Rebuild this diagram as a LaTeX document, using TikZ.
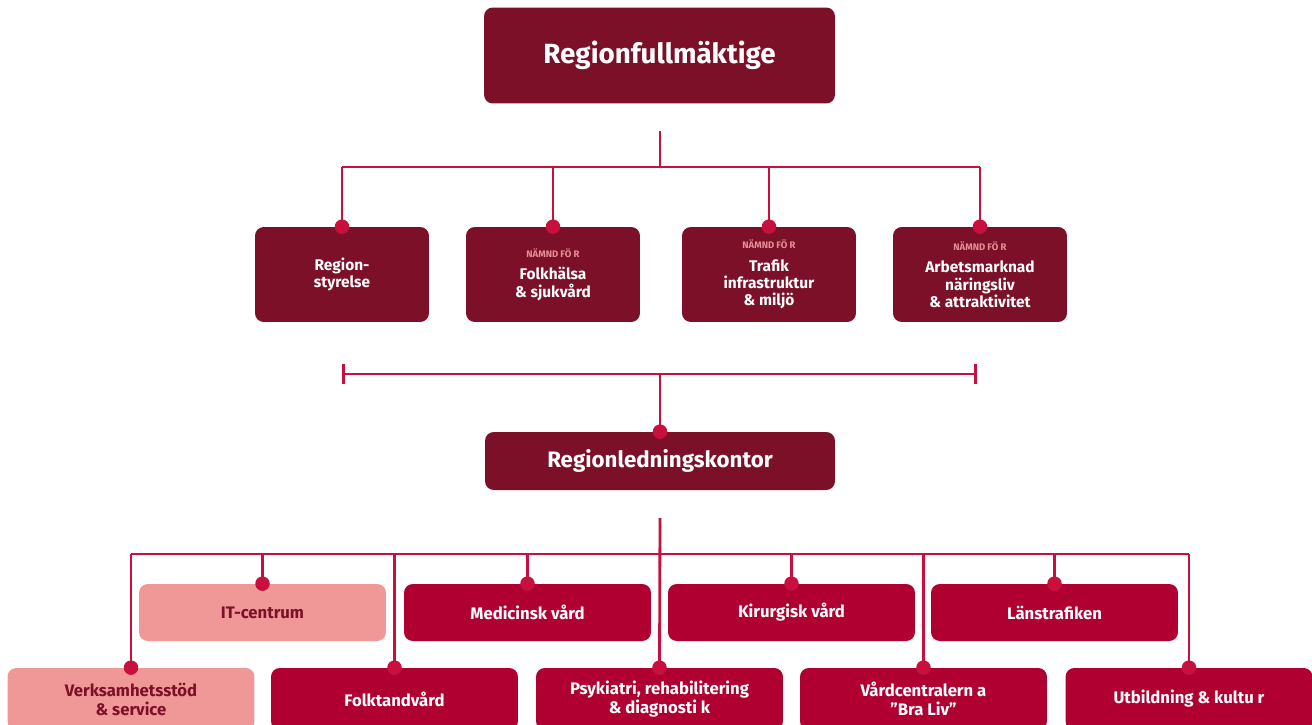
\documentclass[tikz,border=0pt]{standalone}
\usepackage{fontspec}
\setmainfont{Fira Sans}
\usetikzlibrary{arrows.meta}
\definecolor{maroon}{HTML}{7B1028}
\definecolor{crimson}{HTML}{B00032}
\definecolor{rose}{HTML}{F09898}
\definecolor{wirered}{HTML}{C8103F}
\definecolor{tagpink}{HTML}{E58E96}
\tikzset{
  box/.style={rounded corners=5pt, align=center, text=white, font=\bfseries, inner sep=0pt},
  topbox/.style={box, fill=maroon, minimum width=7.02cm, minimum height=1.92cm, font=\bfseries\fontsize{15.8}{18}\selectfont},
  board/.style={box, fill=maroon, minimum width=3.48cm, minimum height=1.9cm, font=\bfseries\fontsize{8.8}{9.9}\selectfont},
  office/.style={box, fill=maroon, minimum width=7cm, minimum height=1.16cm, font=\bfseries\fontsize{12.7}{14}\selectfont},
  unit/.style={box, fill=crimson, minimum width=4.94cm, minimum height=1.14cm, font=\bfseries\fontsize{9.5}{10.8}\selectfont},
  lowunit/.style={unit, minimum height=1.24cm},
  support/.style={fill=rose, text=maroon},
  wire/.style={draw=wirered, line width=1.6pt},
  dot/.style={circle, fill=wirered, inner sep=0pt, minimum size=0.29cm},
}
\newcommand{\tagline}{{\color{tagpink}\fontsize{5.4}{6}\selectfont NÄMND FÖ R}\\[3pt]}
\begin{document}
\begin{tikzpicture}[x=0.02cm,y=-0.02cm]
  \useasboundingbox (0,0) rectangle (1312,724);
  % fullmaktige
  \node[topbox] (fm) at (659.5,55.5) {Regionfullmäktige};
  % styrelse och namnder
  \node[board] (rs) at (342,274.5) {Region-\\styrelse};
  \node[board] (fh) at (553,274.5) {\tagline Folkhälsa\\\& sjukvård};
  \node[board] (ti) at (769,274.5) {\tagline Trafik\\infrastruktur\\\& miljö};
  \node[board] (am) at (980,274.5) {\tagline Arbetsmarknad\\näringsliv\\\& attraktivitet};
  % kontor
  \node[office] (rlk) at (660,461) {Regionledningskontor};
  % forvaltningar, ovre raden
  \node[unit, support] (it) at (262.5,612.5) {IT-centrum};
  \node[unit] (mv) at (527.5,612.5) {Medicinsk vård};
  \node[unit] (kv) at (791.5,612.5) {Kirurgisk vård};
  \node[unit] (lt) at (1054.5,612.5) {Länstrafiken};
  % forvaltningar, nedre raden (nedre kanten utanfor bilden)
  \node[lowunit, support] (vs) at (131,699) {Verksamhetsstöd\\\& service};
  \node[lowunit] (ft) at (394.5,699) {Folktandvård};
  \node[lowunit] (pr) at (659.5,699) {Psykiatri, rehabilitering\\\& diagnosti k};
  \node[lowunit] (vc) at (923.5,699) {Vårdcentralern a\\”Bra Liv”};
  \node[lowunit] (uk) at (1189,699) {Utbildning \& kultu r};

  % fm -> namnder
  \coordinate (h1) at (660,131);
  \coordinate (h1b) at (660,167);
  \draw[wire] (h1) -- (h1b);
  \draw[wire] (rs.north |- h1b) -- (am.north |- h1b);
  \foreach \b in {rs,fh,ti,am}
    \draw[wire] (\b.north |- h1b) -- (\b.north) node[dot] {};
  % namnder -> kontor
  \coordinate (br) at (660,374);
  \draw[wire, {Bar[width=11pt]}-{Bar[width=11pt]}] (rs.south |- br) -- (977,374);
  \draw[wire] (br) -- (rlk.north) node[dot] {};
  % kontor -> forvaltningar
  \coordinate (h2) at (660,518);
  \coordinate (h2b) at (660,554);
  \draw[wire] (vs.north |- h2b) -- (uk.north |- h2b);
  \draw[wire] (h2) -- (pr.north) node[dot] {};
  \foreach \b in {it,mv,kv,lt,vs,ft,vc,uk}
    \draw[wire] (\b.north |- h2b) -- (\b.north) node[dot] {};
\end{tikzpicture}
\end{document}
